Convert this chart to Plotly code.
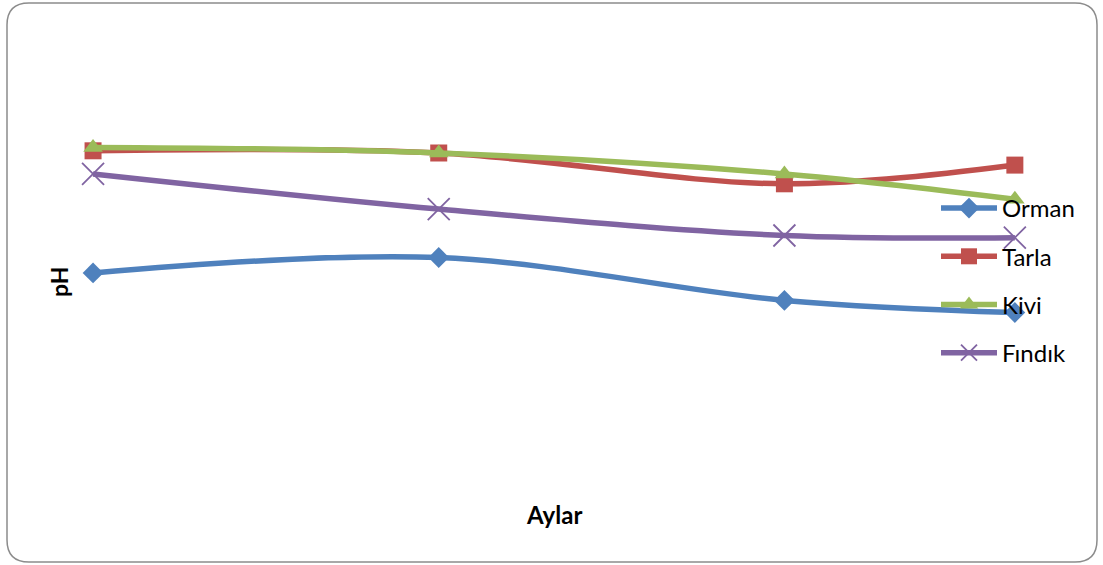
import plotly.graph_objects as go

# Sampling months and soil pH per land use
months = [1, 4, 7, 9]
orman = [6.61, 6.75, 6.36, 6.25]
tarla = [7.72, 7.70, 7.42, 7.59]
kivi = [7.75, 7.70, 7.51, 7.28]
findik = [7.51, 7.19, 6.95, 6.93]

series = [
    ("Orman", orman, "#4F81BD", "diamond", 16, None),
    ("Tarla", tarla, "#C0504D", "square", 17, None),
    ("Kivi", kivi, "#9BBB59", "triangle-up", 17, None),
    ("Fındık", findik, "#8064A2", "x-thin", 22, 1.8),
]

W, H = 1103, 565
L, R, T, B = 70, 19, 65, 60
pw, ph = W - L - R, H - T - B


def px(x):
    return (x - L) / pw


def py(y):
    return (H - B - y) / ph


fig = go.Figure()
for i, (name, vals, color, sym, size, lw) in enumerate(series):
    marker = dict(symbol=sym, size=size, color=color)
    if lw:
        marker["line"] = dict(color=color, width=lw)
    fig.add_trace(go.Scatter(
        x=months, y=vals, name=name, mode="lines+markers",
        line=dict(color=color, width=5.5, shape="spline", smoothing=1),
        marker=marker, legendgroup=f"g{i}",
    ))

# rounded chart frame
x0, x1, y0, y1, r = px(7), px(1097), py(3), py(562), 22
rx, ry = r / pw, r / ph
path = (
    f"M {x0 + rx} {y0} L {x1 - rx} {y0} Q {x1} {y0} {x1} {y0 - ry} "
    f"L {x1} {y1 + ry} Q {x1} {y1} {x1 - rx} {y1} "
    f"L {x0 + rx} {y1} Q {x0} {y1} {x0} {y1 + ry} "
    f"L {x0} {y0 - ry} Q {x0} {y0} {x0 + rx} {y0} Z"
)
fig.add_shape(type="path", path=path, xref="paper", yref="paper",
              line=dict(color="#8C8C8C", width=1.5), layer="below")

fig.add_annotation(text="<b>pH</b>", x=px(59), y=py(282), xref="paper", yref="paper",
                   xanchor="center", yanchor="middle",
                   textangle=-90, showarrow=False, font=dict(size=23, color="black"))
fig.add_annotation(text="<b>Aylar</b>", x=px(554), y=py(514), xref="paper", yref="paper",
                   xanchor="center", yanchor="middle",
                   showarrow=False, font=dict(size=24, color="black"))

fig.update_layout(
    width=W, height=H,
    margin=dict(l=L, r=R, t=T, b=B),
    paper_bgcolor="white", plot_bgcolor="rgba(0,0,0,0)",
    font=dict(family="Lato, 'Open Sans', sans-serif", size=24, color="black"),
    showlegend=True,
    legend=dict(x=px(936), y=py(186), xanchor="left", yanchor="top",
                bgcolor="rgba(0,0,0,0)", itemwidth=56, tracegroupgap=14,
                traceorder="grouped", font=dict(size=24)),
    xaxis=dict(range=[0.8, 9.6], visible=False),
    yaxis=dict(range=[4.5, 8.5], visible=False),
)

fig.write_html("out.html")
